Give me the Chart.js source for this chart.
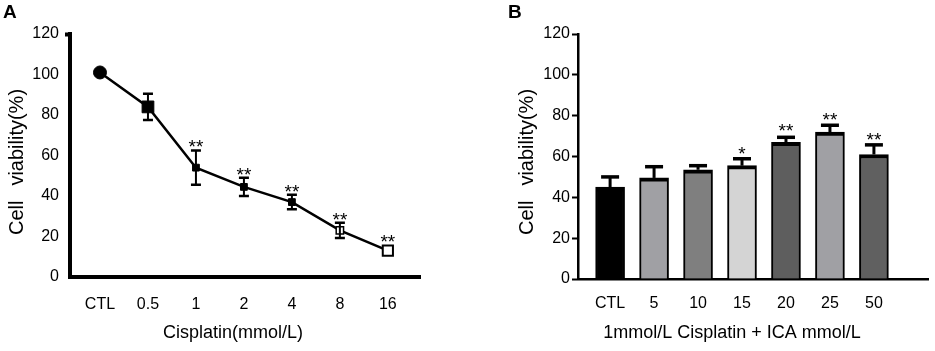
<!DOCTYPE html>
<html>
<head>
<meta charset="utf-8"/>
<style>
  html,body{margin:0;padding:0;background:#fff;}
  .wrap{position:relative;width:935px;height:351px;}
  .pane{position:absolute;top:0;height:351px;}
</style>
</head>
<body>
<div class="wrap">
  <div class="pane" style="left:0;width:467px"><canvas id="ca" width="467" height="351"></canvas></div>
  <div class="pane" style="left:467px;width:468px"><canvas id="cb" width="468" height="351"></canvas></div>
</div>
<script src="https://cdn.jsdelivr.net/npm/chart.js@4.4.0/dist/chart.umd.min.js"></script>
<script>
// panel A: cisplatin dose curve
const catsA  = ["CTL", "0.5", "1", "2", "4", "8", "16"];
const valsA  = [101, 84, 54, 44.5, 37, 23, 13];
const errA   = [0, 6.5, 8.5, 4.5, 3.6, 3.8, 0];
const sigA   = ["", "", "**", "**", "**", "**", "**"];

// panel B: cisplatin + ICA
const catsB  = ["CTL", "5", "10", "15", "20", "25", "50"];
const valsB  = [45, 49.5, 53.5, 55.5, 67, 72, 61];
const errB   = [5, 5.5, 2, 3.4, 2.4, 3.3, 4.7];
const sigB   = ["", "", "", "*", "**", "**", "**"];
const colsB  = ["#000000", "#a0a0a4", "#7f7f7f", "#d4d4d4", "#5e5e5e", "#a0a0a4", "#606060"];

const yTicks = [0, 20, 40, 60, 80, 100, 120];
const FONT = "'Liberation Sans', Arial, sans-serif";

// error bars, stars, panel letter and axis titles
const extras = {
  id: "extras",
  afterDatasetsDraw(chart, args, o) {
    const { ctx, chartArea: ca } = chart;
    const xs = chart.scales.x, ys = chart.scales.y;
    ctx.save();
    ctx.strokeStyle = "#000";
    ctx.fillStyle = "#000";
    o.vals.forEach((v, i) => {
      const x = xs.getPixelForValue(i);
      const e = o.err[i];
      const yt = ys.getPixelForValue(v + e);
      if (e > 0) {
        ctx.lineWidth = o.errW;
        ctx.beginPath();
        ctx.moveTo(x, o.both ? ys.getPixelForValue(v - e) : ys.getPixelForValue(v));
        ctx.lineTo(x, yt);
        ctx.stroke();
        ctx.lineWidth = o.capW;
        ctx.beginPath();
        ctx.moveTo(x - o.cap, yt); ctx.lineTo(x + o.cap, yt);
        if (o.both) {
          const yb = ys.getPixelForValue(v - e);
          ctx.moveTo(x - o.cap, yb); ctx.lineTo(x + o.cap, yb);
        }
        ctx.stroke();
      }
      if (o.sig[i]) {
        ctx.font = "19px " + FONT;
        ctx.textAlign = "center";
        ctx.textBaseline = "alphabetic";
        ctx.fillText(o.sig[i], x, Math.min(yt, ys.getPixelForValue(v) - 6) + o.sigDy);
      }
    });
    ctx.font = "bold 19px " + FONT;
    ctx.textAlign = "left";
    ctx.textBaseline = "top";
    ctx.fillText(o.letter, o.letterX, 3);

    ctx.font = "18px " + FONT;
    ctx.textAlign = "center";
    ctx.textBaseline = "middle";
    ctx.fillText(o.xTitle, ca.left + o.xTitleDx, 333);

    // y title: "Cell" and "viability(%)" with a wide gap, as in the figure
    ctx.font = "20px " + FONT;
    ctx.translate(o.yTitleX, 162);
    ctx.rotate(-Math.PI / 2);
    const w1 = ctx.measureText(o.yTitle[0]).width;
    const w2 = ctx.measureText(o.yTitle[1]).width;
    const gap = 15, tot = w1 + gap + w2;
    ctx.textAlign = "left";
    ctx.fillText(o.yTitle[0], -tot / 2, 0);
    ctx.fillText(o.yTitle[1], -tot / 2 + w1 + gap, 0);
    ctx.restore();
  }
};

new Chart(document.getElementById("ca"), {
  type: "line",
  data: {
    datasets: [{
      data: valsA.map((v, i) => ({ x: i, y: v })),
      borderColor: "#000",
      borderWidth: 2.5,
      pointStyle: ["circle", "rect", "rect", "rect", "rect", "rect", "rect"],
      pointRadius: [6.5, 8.3, 4.8, 4.8, 4.8, 5.2, 7.2],
      pointBackgroundColor: ["#000", "#000", "#000", "#000", "#000", "#fff", "#fff"],
      pointBorderColor: "#000",
      pointBorderWidth: [1, 1, 1, 1, 1, 1.5, 2],
      tension: 0
    }]
  },
  options: {
    responsive: false,
    animation: false,
    layout: { padding: { left: 0, top: 34, right: 47, bottom: 0 } },
    plugins: {
      legend: { display: false }, tooltip: { enabled: false },
      extras: { vals: valsA, err: errA, sig: sigA, both: true, cap: 5, errW: 2, capW: 2.5, sigDy: 3,
                letter: "A", letterX: 3, xTitle: "Cisplatin(mmol/L)", xTitleDx: 163,
                yTitle: ["Cell", "viability(%)"], yTitleX: 17 }
    },
    scales: {
      x: {
        type: "linear", min: -0.625, max: 6.67, offset: false,
        afterFit: s => { s.height = 74; },
        afterBuildTicks: s => { s.ticks = catsA.map((_, i) => ({ value: i })); },
        grid: { display: true, drawOnChartArea: false, drawTicks: false },
        border: { color: "#000", width: 4 },
        ticks: { callback: v => catsA[v], color: "#000", padding: 18, font: { family: FONT, size: 16 } }
      },
      y: {
        min: 0, max: 120,
        afterFit: s => { s.width = 70; },
        afterBuildTicks: s => { s.ticks = yTicks.map(v => ({ value: v })); },
        grid: { drawOnChartArea: false, drawTicks: true, tickLength: 5, tickWidth: 4,
                tickColor: c => c.tick && c.tick.value === 120 ? "#000" : "rgba(0,0,0,0)" },
        border: { color: "#000", width: 4 },
        ticks: { color: "#000", padding: 6, font: { family: FONT, size: 16 } }
      }
    }
  },
  plugins: [extras]
});

new Chart(document.getElementById("cb"), {
  type: "bar",
  data: {
    datasets: [{
      data: valsB.map((v, i) => ({ x: i, y: v })),
      backgroundColor: colsB,
      borderColor: "#000",
      borderWidth: { top: 4, left: 2, right: 2, bottom: 0 },
      borderSkipped: "bottom",
      barThickness: 29
    }]
  },
  options: {
    responsive: false,
    animation: false,
    layout: { padding: { left: 42, top: 34, right: 7, bottom: 0 } },
    plugins: {
      legend: { display: false }, tooltip: { enabled: false },
      extras: { vals: valsB, err: errB, sig: sigB, both: false, cap: 9, errW: 3, capW: 3.5, sigDy: 1,
                letter: "B", letterX: 41, xTitle: "1mmol/L Cisplatin + ICA mmol/L", xTitleDx: 154,
                yTitle: ["Cell", "viability(%)"], yTitleX: 60 }
    },
    scales: {
      x: {
        type: "linear", min: -0.73, max: 7.23, offset: false,
        afterFit: s => { s.height = 72; },
        afterBuildTicks: s => { s.ticks = catsB.map((_, i) => ({ value: i })); },
        grid: { drawOnChartArea: false, drawTicks: false, offset: false },
        border: { color: "#000", width: 2.5 },
        ticks: { callback: v => catsB[v], color: "#000", padding: 15, font: { family: FONT, size: 16 } }
      },
      y: {
        min: 0, max: 120,
        afterFit: s => { s.width = 69; },
        afterBuildTicks: s => { s.ticks = yTicks.map(v => ({ value: v })); },
        grid: { drawOnChartArea: false, drawTicks: true, tickLength: 6, tickWidth: 2, tickColor: "#000" },
        border: { color: "#000", width: 2.5 },
        ticks: { color: "#000", padding: 2, font: { family: FONT, size: 16 } }
      }
    }
  },
  plugins: [extras]
});
</script>
</body>
</html>
